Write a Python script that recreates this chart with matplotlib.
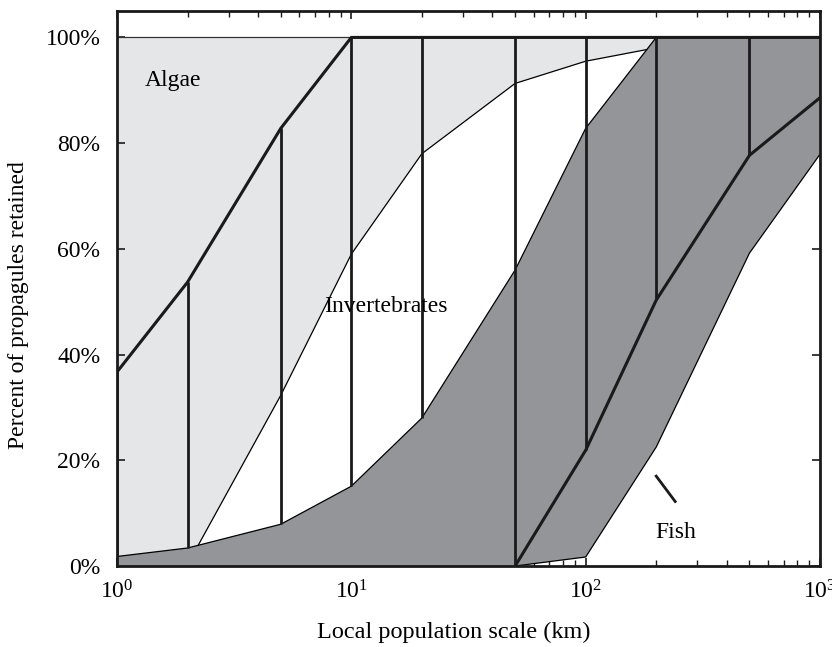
import matplotlib
matplotlib.use("Agg")
import matplotlib.pyplot as plt

plt.rcParams['font.family'] = ['Liberation Serif', 'DejaVu Serif']
plt.rcParams['mathtext.fontset'] = 'stix'

# Data (distance in km, percent retained)
dist = [1, 2, 5, 10, 20, 50, 100, 200, 500, 1000]
inv_upper = [36.7, 53.7, 82.8, 100, 100, 100, 100, 100, 100, 100]
inv_lower_x = [1, 2, 5, 10, 20, 50, 100, 200]
inv_lower_y = [1.8, 3.4, 7.9, 15.1, 28, 56, 82.8, 100]
algae_x = [2.22, 5, 10, 20, 50, 100, 182]
algae_y = [3.9, 32.3, 59, 78, 91.3, 95.5, 97.7]
fish_x = [50, 100, 200, 500, 1000]
fish_upper = [0, 21.9, 50.3, 77.7, 88.6]
fish_lower = [0, 1.7, 22.5, 59.2, 77.9]
vert_bottom = [1.8, 3.4, 7.9, 15.1, 28, 0, 21.9, 50.3, 77.7, 88.6]
yticks = [0, 20, 40, 60, 80, 100]
ytick_labels = ["0%", "20%", "40%", "60%", "80%", "100%"]

LIGHT = "#e5e6e8"
DARK = "#939598"

fig = plt.figure(figsize=(8.32, 6.47), dpi=100)
ax = fig.add_axes([0.1406, 0.1252, 0.845, 0.8578])
ax.set_xscale('log')
ax.set_xlim(1, 1000)
ax.set_ylim(0, 105)

# light gray (algae) region: between dark curve and 100%
lg_x = [1, 200] + inv_lower_x[::-1]
lg_y = [100, 100] + inv_lower_y[::-1]
ax.fill(lg_x, lg_y, color=LIGHT, lw=0, zorder=1)

# white region between algae curve and invertebrate dark curve
mid_x = [x for x in inv_lower_x if algae_x[0] < x < algae_x[-1]]
mid_y = [y for x, y in zip(inv_lower_x, inv_lower_y) if algae_x[0] < x < algae_x[-1]]
w_x = algae_x + mid_x[::-1]
w_y = algae_y + mid_y[::-1]
ax.fill(w_x, w_y, color="white", lw=0, zorder=2)

# dark region (invertebrates lower + fish band)
d_x = inv_lower_x + [1000] + fish_x[::-1] + [1]
d_y = inv_lower_y + [100] + fish_lower[::-1] + [0]
ax.fill(d_x, d_y, color=DARK, lw=0, zorder=3)

# thin boundary lines
ax.plot(inv_lower_x, inv_lower_y, color="black", lw=0.9, zorder=4)
ax.plot(algae_x, algae_y, color="black", lw=0.9, zorder=4)
ax.plot(fish_x, fish_lower, color="black", lw=0.9, zorder=4)
ax.plot([1, 10], [100, 100], color="#333333", lw=0.9, zorder=4)

# thick lines
ax.plot(dist, inv_upper, color="#1a1a1a", lw=2.2, zorder=5)
ax.plot(fish_x, fish_upper, color="#1a1a1a", lw=2.2, zorder=5)
ax.vlines(dist, vert_bottom, inv_upper, color="#1a1a1a", lw=2.0, zorder=5)

# labels
ax.text(1.74, 91.8, "Algae", fontsize=17, ha="center", va="center", zorder=6)
ax.text(14.1, 49, "Invertebrates", fontsize=17, ha="center", va="center", zorder=6)
ax.text(243, 6.3, "Fish", fontsize=17, ha="center", va="center", zorder=6)
ax.plot([200, 241], [17, 12.2], color="#1a1a1a", lw=2.0, zorder=6)

ax.set_yticks(yticks)
ax.set_yticklabels(ytick_labels)
ax.tick_params(axis='both', which='both', direction='in', top=True, right=True,
               labelsize=17, color="#1a1a1a")
ax.tick_params(axis='both', which='major', length=6, width=1.2)
ax.tick_params(axis='x', which='major', pad=10)
ax.tick_params(axis='x', which='minor', length=4, width=1.0)
ax.tick_params(axis='y', which='major', pad=12)
for s in ax.spines.values():
    s.set_linewidth(2.0)
    s.set_color("#1a1a1a")
    s.set_zorder(7)

ax.set_xlabel("Local population scale (km)", fontsize=17.5, va="center")
ax.xaxis.set_label_coords(0.479, -0.119)
ax.set_ylabel("Percent of propagules retained", fontsize=17, va="center")
ax.yaxis.set_label_coords(-0.140, 0.47)

fig.savefig("out.png", dpi=100)
